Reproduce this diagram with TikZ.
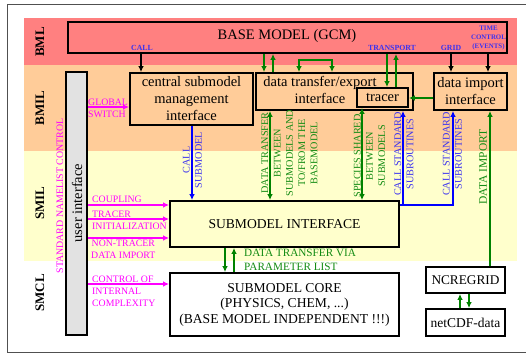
\documentclass[tikz,border=0pt]{standalone}
\usepackage{fontspec}
\setmainfont{Liberation Serif}
\usetikzlibrary{arrows.meta}

\definecolor{bmlred}{RGB}{255,128,128}
\definecolor{bmilor}{RGB}{255,204,153}
\definecolor{smilyel}{RGB}{255,255,204}
\definecolor{uigray}{RGB}{226,226,226}
\definecolor{grn}{RGB}{0,130,0}
\definecolor{grntext}{RGB}{20,140,20}
\definecolor{blu}{RGB}{0,0,255}
\definecolor{blutext}{RGB}{60,50,240}
\definecolor{mag}{RGB}{255,0,255}
\definecolor{framegray}{RGB}{80,80,80}

\tikzset{
  box/.style={draw, line width=1.7pt, inner sep=0pt, align=center},
  boxfont/.style={font=\fontsize{14.5}{17}\selectfont},
  capfont/.style={font=\fontsize{13.6}{15.5}\selectfont},
  layerlab/.style={rotate=90, inner sep=0pt, font=\fontsize{13}{15}\selectfont\bfseries},
  tinylab/.style={text=blutext, inner sep=0pt, align=center, font=\fontsize{7.8}{9}\selectfont\bfseries},
  mlab/.style={text=mag, inner sep=0pt, anchor=west, align=left, font=\fontsize{9.8}{12}\selectfont},
  vlab/.style={rotate=90, inner sep=0pt, align=center, font=\fontsize{10.2}{12.3}\selectfont},
  arr/.style={line width=1.5pt, -{Latex[length=6pt,width=5.5pt]}},
  garr/.style={arr, draw=grn},
  barr/.style={arr, draw=blu},
  marr/.style={arr, draw=mag},
  karr/.style={arr, draw=black},
}

\begin{document}
\begin{tikzpicture}[x=1pt,y=-1pt]
\useasboundingbox (0,0) rectangle (526,354);
\fill[white] (0,0) rectangle (526,354);

% outer frame (open to the right)
\draw[framegray, line width=1pt] (530,4) -- (7,4) -- (7,352) -- (530,352);

% layer bands
\fill[bmlred]  (24,18)  rectangle (517,65);
\fill[bmilor]  (24,65)  rectangle (517,151);
\fill[smilyel] (24,151) rectangle (517,261);

% layer names
\node[layerlab] (lBML)  at (40,42)  {BML};
\node[layerlab] (lBMIL) at (40,108) {BMIL};
\node[layerlab] (lSMIL) at (40,203) {SMIL};
\node[layerlab] (lSMCL) at (40,293) {SMCL};

% boxes
\node[box, fill=bmlred, minimum width=439pt, minimum height=31pt] (base) at (287.5,37.5) {};
\node[boxfont, inner sep=0pt] (baseT) at (287,36) {BASE MODEL (GCM)};

\node[box, boxfont, fill=bmilor, minimum width=123pt, minimum height=52pt] (central) at (191.5,99)
  {central submodel\\management\\interface};

\node[box, fill=bmilor, minimum width=157pt, minimum height=37pt] (dte) at (334.5,91.5) {};
\node[boxfont, inner sep=0pt, align=center] (dteT) at (320,89.5) {data transfer/export\\interface};

\node[box, boxfont, fill=bmilor, minimum width=51pt, minimum height=19pt] (tracer) at (382.5,97.5) {tracer};

\node[box, boxfont, fill=bmilor, minimum width=73pt, minimum height=37pt] (dii) at (470.5,91.5)
  {data import\\interface};

\node[box, fill=uigray, minimum width=21pt, minimum height=263pt] (ui) at (76.5,203.5) {};
\node[rotate=90, inner sep=0pt, font=\fontsize{14.5}{17}\selectfont] (uiT) at (77,203) {user interface};

\node[box, capfont, fill=smilyel, minimum width=229pt, minimum height=46pt] (smi) at (284.5,224)
  {SUBMODEL INTERFACE};

\node[box, capfont, fill=white, minimum width=229pt, minimum height=63pt] (core) at (284.5,304.5)
  {SUBMODEL CORE\\(PHYSICS, CHEM, ...)\\(BASE MODEL INDEPENDENT !!!)};

\node[box, font=\fontsize{13.3}{15}\selectfont, fill=white, minimum width=79pt, minimum height=26pt] (ncr) at (465.5,280) {NCREGRID};
\node[box, font=\fontsize{13.5}{15}\selectfont, fill=white, minimum width=79pt, minimum height=27pt] (ncdf) at (465.5,322.5) {netCDF-data};

% x and y positions of connectors
\coordinate (xCall)  at (141,0);
\coordinate (xDown)  at (264,0);
\coordinate (xUp)    at (273,0);
\coordinate (xLoopA) at (299,0);
\coordinate (xLoopB) at (332,0);
\coordinate (xTrD)   at (387,0);
\coordinate (xTrU)   at (396,0);
\coordinate (xGrid)  at (451,0);
\coordinate (xTime)  at (488,0);
\coordinate (xImp)   at (490,0);
\coordinate (xNcU)   at (460,0);
\coordinate (xNcD)   at (469,0);
\coordinate (xCoreD) at (225,0);
\coordinate (xCoreU) at (234,0);
\coordinate (xDT)    at (270,0);
\coordinate (xSp)    at (362,0);
\coordinate (xSub)   at (192,0);
\coordinate (xStdA)  at (403,0);
\coordinate (xStdB)  at (453,0);
\coordinate (yStd)   at (0,205);
\coordinate (yTr)    at (0,98);
\coordinate (yGlob)  at (0,107);
\coordinate (yCoup)  at (0,205);
\coordinate (yTrac)  at (0,219);
\coordinate (yNon)   at (0,238);
\coordinate (yCtrl)  at (0,284);

% base model calls
\draw[karr] (base.south -| xCall) -- (central.north -| xCall);
\draw[karr] (base.south -| xGrid) -- (dii.north -| xGrid);
\draw[karr] (base.south -| xTime) -- (dii.north -| xTime);

% data exchange with the base model
\draw[garr] (base.south -| xDown) -- (dte.north -| xDown);
\draw[garr] (dte.north -| xUp) -- (base.south -| xUp);
\draw[garr, {Latex[length=6pt,width=5.5pt]}-{Latex[length=6pt,width=5.5pt]}]
  (dte.north -| xLoopA) -- ++(0,-12) -| (dte.north -| xLoopB);
\draw[garr] (base.south -| xTrD) -- (tracer.north -| xTrD);
\draw[garr] (tracer.north -| xTrU) -- (base.south -| xTrU);
\draw[garr] (dii.west |- yTr) -- (tracer.east |- yTr);
\draw[garr] (ncr.north -| xImp) -- (dii.south -| xImp);
\draw[garr] (ncdf.north -| xNcU) -- (ncr.south -| xNcU);
\draw[garr] (ncr.south -| xNcD) -- (ncdf.north -| xNcD);
\draw[garr] (smi.south -| xCoreD) -- (core.north -| xCoreD);
\draw[garr] (core.north -| xCoreU) -- (smi.south -| xCoreU);
\draw[garr, {Latex[length=6pt,width=5.5pt]}-{Latex[length=6pt,width=5.5pt]}]
  (dte.south -| xDT) -- (smi.north -| xDT);
\draw[garr, {Latex[length=6pt,width=5.5pt]}-{Latex[length=6pt,width=5.5pt]}]
  (tracer.south -| xSp) -- (smi.north -| xSp);

% subroutine calls
\draw[barr] (central.south -| xSub) -- (smi.north -| xSub);
\draw[barr] (smi.east |- yStd) -- (xStdB |- yStd) -- (dii.south -| xStdB);
\draw[barr] (xStdA |- yStd) -- (dte.south -| xStdA);

% namelist control
\draw[marr] (ui.east |- yGlob) -- (central.west |- yGlob);
\draw[marr] (ui.east |- yCoup) -- (smi.west |- yCoup);
\draw[marr] (ui.east |- yTrac) -- (smi.west |- yTrac);
\draw[marr] (ui.east |- yNon)  -- (smi.west |- yNon);
\draw[marr] (ui.east |- yCtrl) -- (core.west |- yCtrl);

% labels inside the base model box
\node[tinylab] (tCall) at (142,47.5) {CALL};
\node[tinylab] (tTransp) at (392,47.5) {TRANSPORT};
\node[tinylab] (tGrid) at (451,47.5) {GRID};
\node[tinylab, font=\fontsize{6.9}{9.2}\selectfont\bfseries] (tTime) at (488.5,38) {TIME\\CONTROL\\(EVENTS)};

% namelist labels
\node[mlab] (mGlob) at (88,108) {GLOBAL\\SWITCH};
\node[mlab] (mCoup) at (92,199) {COUPLING};
\node[mlab] (mTrac) at (92,220.5) {TRACER\\INITIALIZATION};
\node[mlab, align=center] (mNon) at (91,249.5) {NON-TRACER\\DATA IMPORT};
\node[mlab] (mCtrl) at (92,291.5) {CONTROL OF\\INTERNAL\\COMPLEXITY};
\node[rotate=90, inner sep=0pt, text=mag, font=\fontsize{9.9}{12}\selectfont] (mStd) at (60,196) {STANDARD NAMELIST CONTROL};

% vertical connector labels
\node[vlab, text=blutext] (vSub) at (192.5,160) {CALL\\SUBMODEL};
\node[vlab, text=grntext] (vDT) at (289.5,153) {DATA TRANSFER\\BETWEEN\\SUBMODELS AND\\TO/FROM THE\\BASEMODEL};
\node[vlab, text=grntext] (vSp) at (369.5,156) {SPECIES SHARED\\BETWEEN\\SUBMODELS};
\node[vlab, text=blutext] (vStdA) at (404,154) {CALL STANDARD\\SUBROUTINES};
\node[vlab, text=blutext] (vStdB) at (452.5,154) {CALL STANDARD\\SUBROUTINES};
\node[rotate=90, inner sep=0pt, text=grntext, font=\fontsize{11.5}{13}\selectfont] (vImp) at (483,167) {DATA IMPORT};

% parameter list label
\node[inner sep=0pt, anchor=west, align=left, text=grntext, font=\fontsize{11.2}{14}\selectfont] (pList) at (244,260) {DATA TRANSFER VIA\\PARAMETER LIST};

\end{tikzpicture}
\end{document}
